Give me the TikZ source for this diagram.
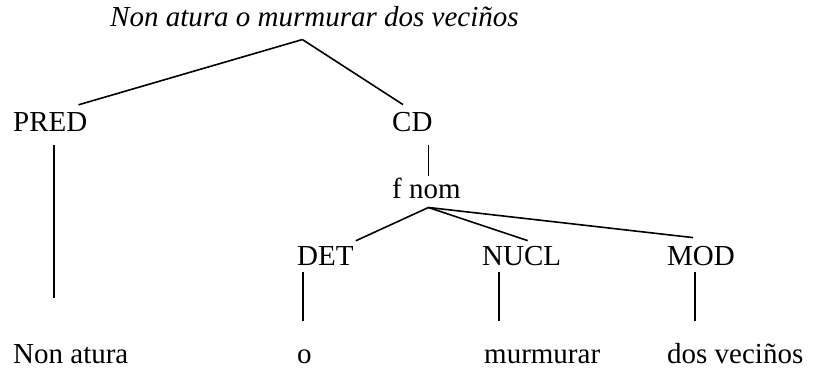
\documentclass[tikz,border=0pt]{standalone}
\usepackage{fontspec}
\setmainfont{Liberation Serif}
\usepackage{tikz}
\usetikzlibrary{positioning}
\tikzset{lbl/.style={anchor=base west, inner sep=0pt, font=\fontsize{29}{34}\selectfont}}
\tikzset{branch/.style={line width=1.6pt, color=black}}

\begin{document}
\begin{tikzpicture}[x=1pt, y=1pt]
\useasboundingbox (0,0) rectangle (813,-374);

% Sentence
\node[lbl, font=\fontsize{29}{34}\selectfont\itshape] (title) at (110,-27) {Non atura o murmurar dos veciños};

% Functions
\node[lbl] (pred) at (13,-132) {PRED};
\node[lbl] (cd) at (392,-132) {CD};
\node[lbl] (fnom) at (392,-198) {f nom};
\node[lbl] (det) at (297,-265) {DET};
\node[lbl] (nucl) at (482,-265) {NUCL};
\node[lbl] (mod) at (667,-265) {MOD};

% Words
\node[lbl] (nonatura) at (13,-363) {Non atura};
\node[lbl] (o) at (297,-363) {o};
\node[lbl] (murmurar) at (484,-363) {murmurar};
\node[lbl] (dosvecinos) at (667,-363) {dos veciños};

% Branches
\draw[branch] ([xshift=-12pt,yshift=-12pt]title.south) -- ([xshift=-9pt,yshift=8pt]pred.north east);
\draw[branch] ([xshift=-12pt,yshift=-12pt]title.south) -- ([xshift=11pt,yshift=8pt]cd.north west);
\draw[branch, shorten >=1.5pt] ([xshift=-4pt,yshift=-13pt]cd.south east) -- ([xshift=-4pt]cd.south east |- fnom.north);
\draw[branch] ([xshift=2pt,yshift=-9pt]fnom.south) -- ([xshift=2pt,yshift=5pt]det.north east);
\draw[branch] ([xshift=2pt,yshift=-9pt]fnom.south) -- ([xshift=6pt,yshift=5pt]nucl.north);
\draw[branch] ([xshift=2pt,yshift=-9pt]fnom.south) -- ([xshift=-8pt,yshift=8pt]mod.north);

% Leaves
\draw[branch, shorten >=46pt] ([xshift=41pt,yshift=-13pt]pred.south west) -- ([xshift=41pt]pred.south west |- nonatura.north);
\draw[branch, shorten >=28pt] ([xshift=6pt,yshift=-7pt]det.south west) -- ([xshift=6pt]det.south west |- o.north);
\draw[branch, shorten >=28pt] ([xshift=17pt,yshift=-7pt]nucl.south west) -- ([xshift=17pt]nucl.south west |- murmurar.north);
\draw[branch, shorten >=21.5pt] ([xshift=28pt,yshift=-7pt]mod.south west) -- ([xshift=28pt]mod.south west |- dosvecinos.north);
\end{tikzpicture}
\end{document}
